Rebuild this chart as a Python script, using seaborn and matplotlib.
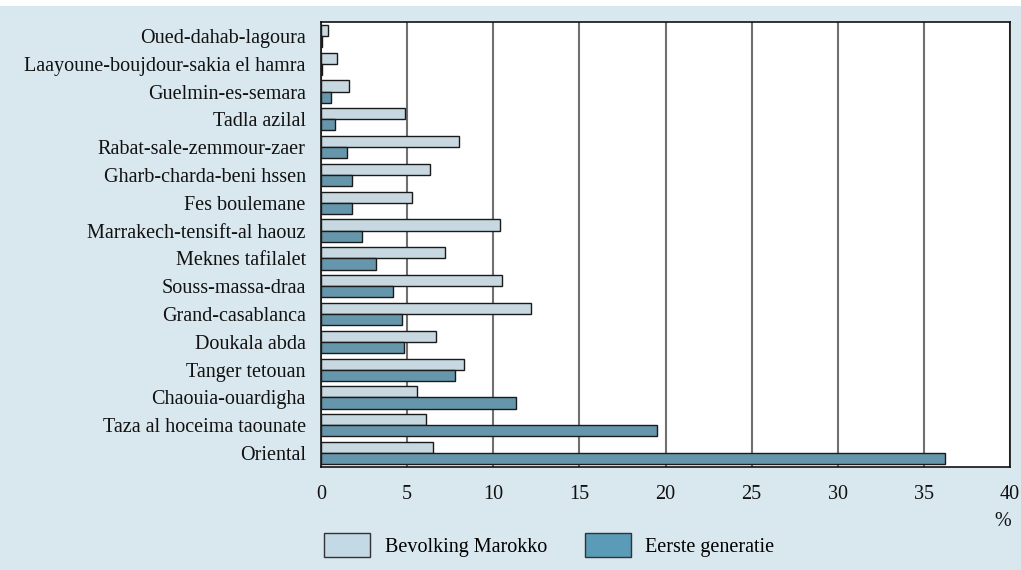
import pandas as pd
import numpy as np
import matplotlib
import matplotlib.pyplot as plt
import seaborn as sns
from matplotlib.patches import Rectangle

matplotlib.use('agg')

regions = ["Oued-dahab-lagoura", "Laayoune-boujdour-sakia el hamra", "Guelmin-es-semara",
           "Tadla azilal", "Rabat-sale-zemmour-zaer", "Gharb-charda-beni hssen",
           "Fes boulemane", "Marrakech-tensift-al haouz", "Meknes tafilalet",
           "Souss-massa-draa", "Grand-casablanca", "Doukala abda", "Tanger tetouan",
           "Chaouia-ouardigha", "Taza al hoceima taounate", "Oriental"]
bevolking = [0.4, 0.9, 1.6, 4.9, 8.0, 6.3, 5.3, 10.4, 7.2, 10.5, 12.2, 6.7, 8.3, 5.6, 6.1, 6.5]
eerste_gen = [0.05, 0.05, 0.6, 0.8, 1.5, 1.8, 1.8, 2.4, 3.2, 4.2, 4.7, 4.8, 7.8, 11.3, 19.5, 36.2]
series = ["Bevolking Marokko", "Eerste generatie"]

bg = '#d9e7ee'
colors = ['#c3d9e5', '#5a9bb8']
fs = 14.5

df = pd.DataFrame({
    'region': regions * 2,
    'value': bevolking + eerste_gen,
    'serie': [series[0]] * len(regions) + [series[1]] * len(regions),
})

plt.rcParams['font.family'] = ['Liberation Serif', 'DejaVu Serif']

fig = plt.figure(figsize=(10.21, 5.70), dpi=100, facecolor=bg)
fig.patches.append(Rectangle((0, 1 - 6 / 570), 1, 6 / 570, transform=fig.transFigure,
                             facecolor='white', edgecolor='none', zorder=0))
ax = fig.add_axes([321 / 1021, 1 - 467 / 570, 689 / 1021, 445 / 570])
ax.set_facecolor('white')

sns.barplot(data=df, x='value', y='region', hue='serie', order=regions, hue_order=series,
            palette=colors, width=0.8, gap=0, edgecolor='#1a1a1a', linewidth=1,
            ax=ax, legend=False, zorder=3)

ax.set_xlim(0, 40)
ax.set_xticks(np.arange(0, 41, 5))
ax.set_xlabel('')
ax.set_ylabel('')
ax.grid(axis='x', color='#707070', linewidth=1.5, zorder=1)
ax.set_axisbelow(True)
for s in ax.spines.values():
    s.set_color('#111111')
    s.set_linewidth(1.2)
ax.tick_params(axis='both', length=0, labelsize=fs, colors='#111111')
ax.tick_params(axis='x', pad=13)
ax.tick_params(axis='y', pad=11)

fig.text(1003 / 1021, 1 - 521 / 570, '%', fontsize=fs, ha='center', va='center', color='#111111')

handles = [Rectangle((0, 0), 1, 1, facecolor=c, edgecolor='#333333', linewidth=1) for c in colors]
fig.legend(handles, series, loc='center left', bbox_to_anchor=(306 / 1021, 1 - 545 / 570),
           ncol=2, frameon=False, fontsize=fs, handlelength=2.3, handleheight=1.4,
           handletextpad=0.7, columnspacing=1.9)

fig.savefig('out.png', dpi=100, facecolor=bg)
plt.close()
